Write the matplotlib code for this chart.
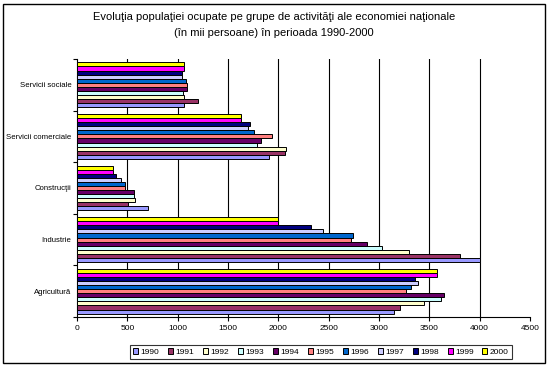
import numpy as np
import matplotlib.pyplot as plt
from matplotlib.patches import Rectangle

plt.rcParams['font.family'] = ['Liberation Sans', 'DejaVu Sans']

# Data (thousand persons)
categories = ['Agricultură', 'Industrie', 'Construcţii', 'Servicii comerciale', 'Servicii sociale']
years = ['1990', '1991', '1992', '1993', '1994', '1995', '1996', '1997', '1998', '1999', '2000']
agricultura = [3145, 3204, 3443, 3612, 3645, 3264, 3314, 3387, 3353, 3576, 3576]
industrie = [4000, 3801, 3294, 3025, 2876, 2717, 2740, 2448, 2322, 2000, 2000]
constructii = [707, 507, 577, 567, 567, 478, 478, 438, 388, 358, 358]
servicii_com = [1911, 2070, 2080, 1791, 1831, 1940, 1761, 1702, 1715, 1632, 1632]
servicii_soc = [1065, 1204, 1065, 1055, 1095, 1091, 1085, 1045, 1045, 1065, 1065]
colors = ['#9999FF', '#993366', '#FFFFCC', '#CCFFFF', '#660066', '#FF8080',
          '#0066CC', '#CCCCFF', '#000080', '#FF00FF', '#FFFF00']

values = np.array([agricultura, industrie, constructii, servicii_com, servicii_soc])

fig = plt.figure(figsize=(5.48, 3.68), dpi=100)
ax = fig.add_axes([77 / 548, 51 / 368, 453 / 548, 258 / 368])

# outer chart frame
fig.patches.append(Rectangle((3 / 548, 5 / 368), 542 / 548, 359 / 368, transform=fig.transFigure,
                             fill=False, edgecolor='black', linewidth=1.0))

n = len(years)
h = 0.87 / n
ypos = np.arange(len(categories))
for j in range(n):
    ax.barh(ypos + (j - (n - 1) / 2) * h, values[:, j], height=h, color=colors[j],
            edgecolor='black', linewidth=0.7, label=years[j], zorder=3)

ax.set_xlim(0, 4500)
ax.set_ylim(-0.5, len(categories) - 0.5)
ax.set_xticks(np.arange(0, 4501, 500))
ax.tick_params(axis='x', labelsize=6, length=3, width=0.8, pad=3)
for gx in range(500, 4500, 500):
    ax.axvline(gx, color='black', linewidth=0.8, zorder=1)

ax.set_yticks(ypos)
ax.set_yticklabels(categories, fontsize=5.6)
ax.tick_params(axis='y', which='major', length=0, pad=4)
ax.set_yticks(np.arange(-0.5, len(categories), 1), minor=True)
ax.tick_params(axis='y', which='minor', length=3, width=0.8)

for s in ['top', 'right']:
    ax.spines[s].set_visible(False)
ax.spines['left'].set_linewidth(0.8)
ax.spines['bottom'].set_linewidth(0.8)

fig.text(0.5, 0.953, 'Evoluţia populaţiei ocupate pe grupe de activităţi ale economiei naţionale',
         ha='center', va='center', fontsize=8)
fig.text(0.5, 0.910, '(în mii persoane) în perioada 1990-2000', ha='center', va='center', fontsize=8)

leg = fig.legend(loc='center', bbox_to_anchor=(321 / 548, 1 - 352 / 368), ncol=n, fontsize=6,
                 frameon=True, fancybox=False, edgecolor='black', handlelength=0.6,
                 handleheight=0.6, handletextpad=0.3, columnspacing=1.05, borderpad=0.35,
                 borderaxespad=0)
leg.get_frame().set_linewidth(0.8)

fig.savefig('out.png', dpi=100)
